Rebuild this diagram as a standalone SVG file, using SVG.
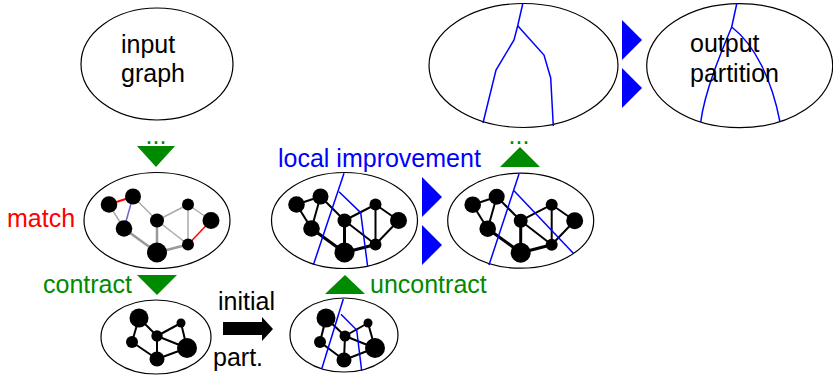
<svg xmlns="http://www.w3.org/2000/svg" width="833" height="378" viewBox="0 0 833 378">
<style>
.ell{fill:#fff;stroke:#000;stroke-width:1.2}
.t{font-family:"Liberation Sans",Arial,sans-serif;font-size:25px}
.blk{fill:#000}
.grn{fill:#008a00}
.red{fill:#ff0000}
.blu{fill:#0000ff}
.cut{fill:none;stroke:#0000ff;stroke-width:1.5}
.e{stroke:#000;stroke-width:2;fill:none}
.ek{stroke:#000;stroke-width:3;fill:none}
.n{fill:#000}
.gl{stroke:#aaa;stroke-width:1.5}
.gd{stroke:#999;stroke-width:2.5}
</style>
<defs>
<g id="gedges">
<line x1="-48" y1="-16" x2="-24" y2="-24"/>
<line x1="-48" y1="-16" x2="-33" y2="8"/>
<line x1="-24" y1="-24" x2="-33" y2="8"/>
<line x1="-24" y1="-24" x2="0" y2="0"/>
<line x1="0" y1="0" x2="31" y2="-16"/>
<line x1="0" y1="0" x2="31" y2="24"/>
<line x1="31" y1="-16" x2="31" y2="24"/>
<line x1="31" y1="-16" x2="54" y2="0"/>
<line x1="54" y1="0" x2="31" y2="24"/>
</g>
<g id="gnodes">
<circle cx="-48" cy="-16" r="8.3"/>
<circle cx="-24" cy="-24" r="8"/>
<circle cx="-33" cy="8" r="8.3"/>
<circle cx="0" cy="0" r="7"/>
<circle cx="0" cy="32" r="10"/>
<circle cx="31" cy="-16" r="6"/>
<circle cx="54" cy="0" r="8.5"/>
<circle cx="31" cy="24" r="6"/>
</g>
</defs>

<g id="input-graph">
<ellipse class="ell" cx="157" cy="64" rx="76" ry="56"/>
<text class="t blk" x="121" y="53">input</text>
<text class="t blk" x="121" y="82">graph</text>
</g>

<g id="partitioned-graph">
<ellipse class="ell" cx="523.5" cy="65.5" rx="94.5" ry="62"/>
<polyline class="cut" points="522.7,4 517.7,25.7 514,40 496,70 483,123"/>
<polyline class="cut" points="517.7,25.7 544,55 550.7,78 553.3,126"/>
</g>

<g id="output-partition">
<ellipse class="ell" cx="739.7" cy="65.7" rx="93" ry="62"/>
<path class="cut" d="M736.7,4 L731.7,27 C722,50 705,90 700.7,122 M731.7,27 C755,45 772,80 780,122"/>
<text class="t blk" x="690" y="52">output</text>
<text class="t blk" x="690" y="82">partition</text>
</g>

<g id="match-graph">
<ellipse class="ell" cx="157" cy="220.5" rx="73" ry="48"/>
<g transform="translate(157,220.5)">
<line class="gl" x1="-48" y1="-16" x2="-33" y2="8"/>
<line class="gl" x1="-24" y1="-24" x2="0" y2="0"/>
<line class="gl" x1="0" y1="0" x2="31" y2="-16"/>
<line class="gl" x1="0" y1="0" x2="31" y2="24"/>
<line class="gl" x1="31" y1="-16" x2="31" y2="24"/>
<line class="gl" x1="31" y1="-16" x2="54" y2="0"/>
<line class="gd" x1="-33" y1="8" x2="0" y2="32"/>
<line class="gd" x1="0" y1="0" x2="0" y2="32"/>
<line class="gd" x1="0" y1="32" x2="31" y2="24"/>
<line x1="-48" y1="-16" x2="-24" y2="-24" stroke="#ff0000" stroke-width="2"/>
<line x1="-24" y1="-24" x2="-33" y2="8" stroke="#6666cc" stroke-width="1.5"/>
<line x1="54" y1="0" x2="31" y2="24" stroke="#ff0000" stroke-width="1.5"/>
<use href="#gnodes" class="n"/>
</g>
</g>

<g id="coarse-graph">
<ellipse class="ell" cx="156" cy="337" rx="55" ry="37"/>
<g class="e">
<line x1="139" y1="318" x2="132" y2="342"/>
<line x1="139" y1="318" x2="157" y2="336"/>
<line x1="132" y1="342" x2="157" y2="359"/>
<line x1="157" y1="336" x2="157" y2="359"/>
<line x1="157" y1="336" x2="181" y2="323"/>
<line x1="157" y1="336" x2="187" y2="348"/>
<line x1="181" y1="323" x2="187" y2="348"/>
<line x1="157" y1="359" x2="187" y2="348"/>
</g>
<g class="n">
<circle cx="139" cy="318" r="9.5"/>
<circle cx="132" cy="342" r="6"/>
<circle cx="157" cy="336" r="5.7"/>
<circle cx="181" cy="323" r="4.5"/>
<circle cx="157" cy="359" r="7.5"/>
<circle cx="187" cy="348" r="10"/>
</g>
</g>

<g id="coarse-partitioned">
<ellipse class="ell" cx="344" cy="335" rx="54" ry="37"/>
<g class="e">
<line x1="326" y1="318" x2="320" y2="342"/>
<line x1="326" y1="318" x2="345" y2="336"/>
<line x1="320" y1="342" x2="344" y2="360"/>
<line x1="345" y1="336" x2="344" y2="360"/>
<line x1="345" y1="336" x2="368" y2="323"/>
<line x1="345" y1="336" x2="375" y2="348"/>
<line x1="368" y1="323" x2="375" y2="348"/>
<line x1="344" y1="360" x2="375" y2="348"/>
</g>
<g class="n">
<circle cx="326" cy="318" r="9.5"/>
<circle cx="320" cy="342" r="6"/>
<circle cx="345" cy="336" r="5.5"/>
<circle cx="368" cy="323" r="4.5"/>
<circle cx="344" cy="360" r="7.5"/>
<circle cx="375" cy="348" r="10"/>
</g>
<polyline class="cut" points="343.3,299 321.7,369"/>
<polyline class="cut" points="341,314.3 356.7,330 361.7,371"/>
</g>

<g id="uncontracted-graph">
<ellipse class="ell" cx="344.5" cy="220.5" rx="73" ry="48"/>
<g transform="translate(344.5,220.5)">
<use href="#gedges" class="e"/>
<g class="ek">
<line x1="-33" y1="8" x2="0" y2="32"/>
<line x1="0" y1="0" x2="0" y2="32"/>
<line x1="0" y1="32" x2="31" y2="24"/>
</g>
<use href="#gnodes" class="n"/>
</g>
<polyline class="cut" points="344,173.3 313.3,265"/>
<polyline class="cut" points="339,191.7 360.7,212.7 367.7,267"/>
</g>

<g id="refined-graph">
<ellipse class="ell" cx="520.7" cy="220.7" rx="73" ry="47.5"/>
<g transform="translate(520.7,220.7)">
<use href="#gedges" class="e"/>
<g class="ek">
<line x1="-33" y1="8" x2="0" y2="32"/>
<line x1="0" y1="0" x2="0" y2="32"/>
<line x1="0" y1="32" x2="31" y2="24"/>
</g>
<use href="#gnodes" class="n"/>
</g>
<polyline class="cut" points="519,174 489,265"/>
<polyline class="cut" points="514,190.7 573.3,253.3"/>
</g>

<g id="connectors">
<text class="t grn" x="156" y="144" text-anchor="middle">...</text>
<polygon class="grn" points="137,146 175,146 156,167"/>
<polygon class="grn" points="137,275 177,275 157,295"/>
<text class="t grn" x="43" y="293">contract</text>
<text class="t red" x="7" y="227">match</text>
<polygon class="blk" points="223,322 262,322 262,317 273,329 262,341 262,335 223,335"/>
<text class="t blk" x="218" y="310">initial</text>
<text class="t blk" x="213" y="366">part.</text>
<polygon class="grn" points="325,294 365,294 345,275"/>
<text class="t grn" x="370" y="293">uncontract</text>
<text class="t blu" x="278" y="167">local improvement</text>
<polygon class="grn" points="500,167 540,167 520,147"/>
<text class="t grn" x="519" y="144" text-anchor="middle">...</text>
<polygon class="blu" points="422,177 442,197 422,217"/>
<polygon class="blu" points="422,225 442,245 422,265"/>
<polygon class="blu" points="622,20 642,40 622,60"/>
<polygon class="blu" points="622,68 642,88 622,108"/>
</g>
</svg>
